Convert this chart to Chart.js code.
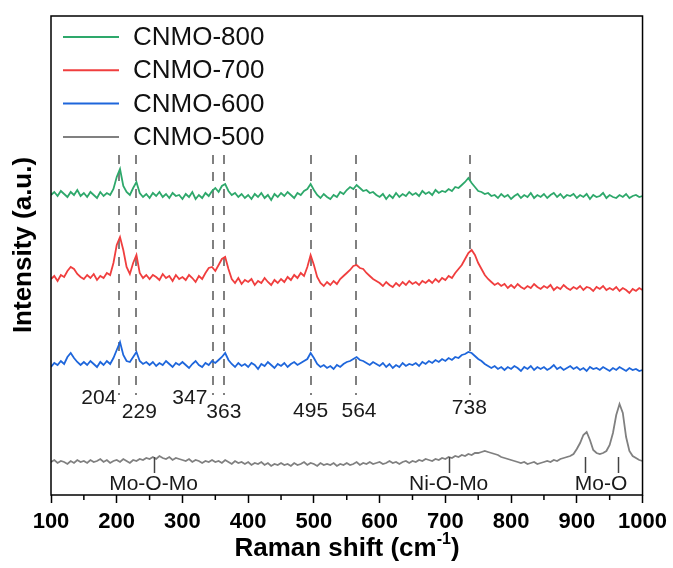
<!DOCTYPE html>
<html>
<head>
<meta charset="utf-8">
<script src="https://cdn.jsdelivr.net/npm/chart.js@4"></script>
<style>
  html, body { margin: 0; padding: 0; background: #fff; }
</style>
</head>
<body>
<canvas id="raman" width="673" height="568"></canvas>
<script>
// Raman shift grid (cm-1), one sample every 5 cm-1
const shift = Array.from({ length: 181 }, (_, i) => 100 + i * 5);

// Intensities (a.u., already stacked as in the figure)
const cnmo800 = [
  300, 303, 299, 304, 301, 298, 303, 300, 305, 299,
  302, 298, 303, 300, 297, 303, 299, 302, 300, 306,
  318, 326, 309, 303, 300, 307, 313, 302, 298, 301,
  297, 302, 299, 303, 298, 301, 297, 302, 299, 300,
  296, 301, 298, 303, 296, 300, 297, 302, 299, 304,
  307, 303, 309, 311, 304, 300, 302, 298, 301, 297,
  300, 296, 301, 298, 302, 297, 300, 295, 301, 298,
  302, 299, 303, 300, 297, 302, 300, 304, 306, 311,
  305, 300, 297, 301, 298, 296, 300, 298, 303, 301,
  305, 308, 306, 310, 307, 304, 305, 302, 303, 300,
  298, 301, 296, 300, 297, 302, 298, 301, 299, 303,
  300, 302, 299, 304, 301, 303, 300, 305, 302, 304,
  303, 306, 304, 308, 307, 310, 313, 317, 312, 308,
  304, 303, 301, 302, 299, 300, 297, 301, 298, 300,
  296, 299, 301, 297, 300, 298, 302, 297, 300, 298,
  301, 297, 300, 302, 298, 301, 297, 300, 299, 301,
  297, 300, 298, 301, 296, 300, 298, 299, 302, 297,
  300, 298, 297, 300, 298, 301, 297, 299, 300, 298,
  299
];
const cnmo700 = [
  216, 219, 214, 220, 218, 224, 228, 226, 221, 218,
  216, 220, 217, 221, 215, 219, 217, 222, 220, 232,
  250, 258, 245, 228, 221, 232, 240, 222, 217, 220,
  216, 220, 218, 215, 221, 217, 219, 214, 220, 216,
  218, 215, 220, 217, 213, 219, 216, 222, 227, 228,
  224, 230, 236, 238, 226, 216, 212, 217, 211, 215,
  213, 216, 210, 214, 212, 217, 213, 210, 215, 212,
  216, 213, 218, 215, 220, 217, 222, 219, 228, 240,
  230, 218, 212, 209, 213, 210, 214, 211, 216, 219,
  222, 225, 229, 230, 227, 226, 222, 219, 216, 214,
  212, 209, 213, 210, 208, 212, 209, 213, 210, 214,
  211, 213, 210, 214, 212, 215, 212, 216, 213, 217,
  215, 219, 217, 222, 226, 230, 236, 242, 245, 240,
  232, 226, 220, 216, 213, 210, 212, 209, 211, 207,
  210, 207, 211, 208, 206, 209, 207, 211, 208, 206,
  209, 207, 210, 205, 208, 206, 210, 207, 205, 208,
  206, 209, 205, 208, 207, 204, 208, 206, 209, 205,
  207, 205, 208, 204, 207, 205, 202, 206, 204, 207,
  205
];
const cnmo600 = [
  128, 132, 130, 134, 131, 138, 142, 137, 133, 130,
  133, 130, 134, 131, 128, 133, 130, 134, 131, 137,
  145, 153, 140, 134, 133, 138, 143, 134, 131, 133,
  130, 133, 129, 132, 130, 134, 131, 128, 132, 130,
  133, 130, 127, 131, 134, 130, 128, 132, 130, 134,
  132, 135, 138, 142, 135, 131, 128, 132, 129, 131,
  128, 132, 130, 126, 131, 129, 133, 130, 127, 131,
  129, 132, 128, 131, 133, 130, 132, 134, 136, 142,
  137, 131, 128, 130, 127, 129, 126, 130, 128, 131,
  133, 134, 136, 138, 135, 134, 132, 130, 133, 131,
  129, 132, 128, 131, 127, 130, 128, 132, 129, 131,
  130, 132, 129, 133, 131, 134, 132, 135, 133, 136,
  134, 137, 135, 138, 137, 140, 141, 143, 142, 139,
  136, 134, 131, 129, 127, 129, 126, 128, 125, 128,
  126, 129, 127, 124, 128, 126, 129, 125, 128, 126,
  128, 125, 127, 130, 126, 128, 125, 127, 129, 126,
  128, 125, 127, 124, 128, 126, 127, 125, 128, 126,
  124, 127, 125, 128, 126, 124, 127, 125, 126, 124,
  125
];
const cnmo500 = [
  33, 35, 32, 34, 33, 31, 34, 32, 35, 33,
  34, 32, 35, 33, 34, 36, 33, 35, 32, 34,
  35, 33, 36, 34, 32, 35, 34, 36, 35, 37,
  36, 38, 36, 39, 37, 36, 38, 35, 37, 36,
  35, 34, 36, 33, 35, 34, 32, 34, 33, 35,
  33, 34, 32, 35, 33, 31, 34, 32, 33, 31,
  33, 30, 32, 31, 33, 30, 32, 29, 31, 30,
  32, 30, 31, 29, 32, 30, 31, 33, 30, 32,
  31, 29, 32, 30, 31, 30, 32, 29, 31, 30,
  32, 30, 31, 33, 30, 32, 31, 33, 31, 32,
  33, 31, 32, 34, 32, 33, 31, 33, 34, 32,
  34, 33, 35, 34, 36, 35, 34, 36, 35, 37,
  36, 38, 37, 39, 38, 40, 39, 41, 40, 42,
  42, 43, 44, 43, 42, 41, 40, 38, 37, 36,
  35, 34, 33, 32, 33, 31, 32, 33, 31, 32,
  33, 34, 33, 35, 34, 36, 37, 38, 39, 41,
  46, 52, 60, 63, 55, 45, 42, 41, 42, 44,
  50, 62, 80, 91, 82, 58, 44, 39, 37, 35,
  34
];

const seriesNames = ['CNMO-800', 'CNMO-700', 'CNMO-600', 'CNMO-500'];
const seriesColors = ['#2ea86b', '#f03e3e', '#1e66db', '#808080'];

// dashed peak guides and their labels
const peakShifts = [204, 229, 347, 363, 495, 564, 738];
const peakLabels = ['204', '229', '347', '363', '495', '564', '738'];

// band assignments on the CNMO-500 trace
const bandShifts = [256, 705, 913, 962];
const bandLabels = [
  { text: 'Mo-O-Mo', at: 256 },
  { text: 'Ni-O-Mo', at: 705 },
  { text: 'Mo-O', at: 937 }
];

const xTicks = [100, 200, 300, 400, 500, 600, 700, 800, 900, 1000];
const xMinorTicks = [150, 250, 350, 450, 550, 650, 750, 850, 950];

const FONT = "'Liberation Sans', Arial, sans-serif";

const peakLabelPlace = [
  { dx: -3, y: 398, align: 'right' },
  { dx: -14, y: 412, align: 'left' },
  { dx: -6, y: 398, align: 'right' },
  { dx: 0, y: 412, align: 'center' },
  { dx: 0, y: 411, align: 'center' },
  { dx: 3, y: 411, align: 'center' },
  { dx: -1, y: 408, align: 'center' }
];

const decor = {
  id: 'decor',
  beforeDatasetsDraw(chart) {
    const { ctx, scales: { x } } = chart;
    ctx.save();
    ctx.strokeStyle = '#808080';
    ctx.lineWidth = 2;
    ctx.setLineDash([9, 8]);
    peakShifts.forEach(v => {
      const px = Math.round(x.getPixelForValue(v));
      ctx.beginPath();
      ctx.moveTo(px, 155);
      ctx.lineTo(px, 395);
      ctx.stroke();
    });
    ctx.restore();
  },
  afterDraw(chart) {
    const { ctx, chartArea: a, scales: { x } } = chart;
    ctx.save();

    // frame
    ctx.strokeStyle = '#000';
    ctx.lineWidth = 1.5;
    ctx.strokeRect(a.left, a.top, a.right - a.left, a.bottom - a.top);

    // minor ticks
    xMinorTicks.forEach(v => {
      const px = x.getPixelForValue(v);
      ctx.beginPath();
      ctx.moveTo(px, a.bottom);
      ctx.lineTo(px, a.bottom + 5);
      ctx.stroke();
    });

    // peak labels
    ctx.fillStyle = '#1a1a1a';
    ctx.font = '21px ' + FONT;
    ctx.textBaseline = 'middle';
    peakShifts.forEach((v, i) => {
      const p = peakLabelPlace[i];
      ctx.textAlign = p.align;
      ctx.fillText(peakLabels[i], x.getPixelForValue(v) + p.dx, p.y);
    });

    // band markers
    ctx.strokeStyle = '#444';
    ctx.lineWidth = 1.5;
    bandShifts.forEach(v => {
      const px = Math.round(x.getPixelForValue(v)) + 0.5;
      ctx.beginPath();
      ctx.moveTo(px, 457);
      ctx.lineTo(px, 473);
      ctx.stroke();
    });
    ctx.textAlign = 'center';
    bandLabels.forEach(b => {
      ctx.fillText(b.text, x.getPixelForValue(b.at), 484);
    });

    // legend
    ctx.font = '26px ' + FONT;
    ctx.textAlign = 'left';
    seriesNames.forEach((name, i) => {
      const y = 37 + i * 33.3;
      ctx.strokeStyle = seriesColors[i];
      ctx.lineWidth = 2;
      ctx.beginPath();
      ctx.moveTo(63, y);
      ctx.lineTo(119, y);
      ctx.stroke();
      ctx.fillStyle = '#111';
      ctx.fillText(name, 133, y + 1);
    });

    // axis titles
    ctx.fillStyle = '#000';
    ctx.font = 'bold 26px ' + FONT;
    ctx.save();
    ctx.translate(24, 245);
    ctx.rotate(-Math.PI / 2);
    ctx.textAlign = 'center';
    ctx.fillText('Intensity (a.u.)', 0, 0);
    ctx.restore();

    const main = 'Raman shift (cm';
    const sup = '-1';
    const tail = ')';
    ctx.font = 'bold 26px ' + FONT;
    const wMain = ctx.measureText(main).width;
    const wTail = ctx.measureText(tail).width;
    ctx.font = 'bold 16px ' + FONT;
    const wSup = ctx.measureText(sup).width;
    let sx = 347 - (wMain + wSup + wTail) / 2;
    ctx.textAlign = 'left';
    ctx.font = 'bold 26px ' + FONT;
    ctx.fillText(main, sx, 549);
    sx += wMain;
    ctx.font = 'bold 16px ' + FONT;
    ctx.fillText(sup, sx, 540);
    sx += wSup;
    ctx.font = 'bold 26px ' + FONT;
    ctx.fillText(tail, sx, 549);

    ctx.restore();
  }
};

const seriesData = [cnmo800, cnmo700, cnmo600, cnmo500];

new Chart(document.getElementById('raman'), {
  type: 'line',
  data: {
    datasets: seriesData.map((vals, i) => ({
      label: seriesNames[i],
      data: vals.map((v, k) => ({ x: shift[k], y: v })),
      borderColor: seriesColors[i],
      borderWidth: 1.8,
      pointRadius: 0,
      tension: 0,
      fill: false
    }))
  },
  options: {
    responsive: false,
    animation: false,
    layout: { padding: { top: 16, right: 29, left: 0, bottom: 0 } },
    plugins: {
      legend: { display: false },
      tooltip: { enabled: false }
    },
    scales: {
      x: {
        type: 'linear',
        min: 100,
        max: 1000,
        afterBuildTicks: s => { s.ticks = xTicks.map(v => ({ value: v })); },
        afterFit: s => { s.height = 73; },
        border: { display: false },
        grid: {
          drawOnChartArea: false,
          tickLength: 8,
          tickWidth: 1.5,
          tickColor: '#000'
        },
        ticks: {
          color: '#000',
          padding: 6,
          maxRotation: 0,
          callback: v => String(v),
          font: { family: FONT, size: 22, weight: 'bold' }
        }
      },
      y: {
        min: 0,
        max: 479,
        afterFit: s => { s.width = 51; },
        border: { display: false },
        grid: { display: false },
        ticks: { display: false }
      }
    }
  },
  plugins: [decor]
});
</script>
</body>
</html>
